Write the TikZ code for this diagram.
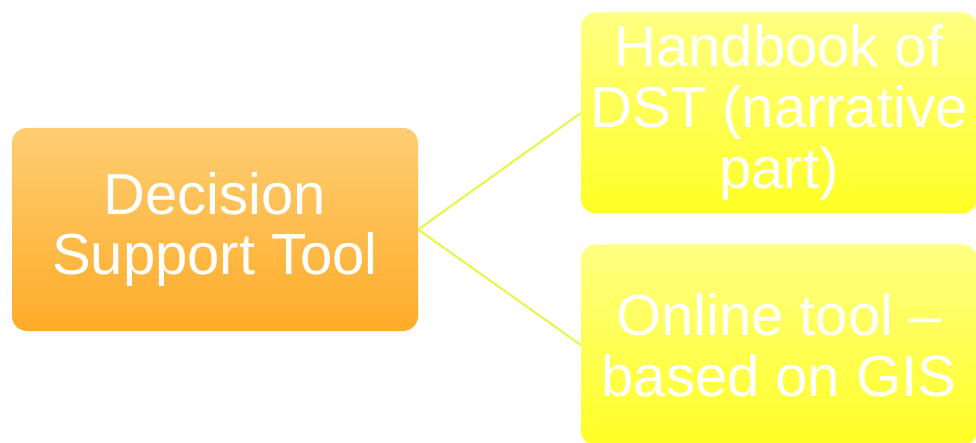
\documentclass[tikz,border=0pt]{standalone}
\usepackage{fontspec}
\setmainfont{Liberation Sans}
\usepackage{tikz}
\usetikzlibrary{shapes.geometric, arrows}
\definecolor{orangetop}{RGB}{254,205,115}
\definecolor{orangebot}{RGB}{254,172,40}
\definecolor{yellowtop}{RGB}{255,255,130}
\definecolor{yellowbot}{RGB}{255,255,38}
\definecolor{linkcol}{RGB}{232,245,70}
\tikzstyle{rootbox} = [rectangle, rounded corners=15pt, inner sep=0pt, align=center, text=white, font=\fontsize{58}{60}\selectfont, top color=orangetop, bottom color=orangebot, minimum width=406pt, minimum height=203pt]
\tikzstyle{leafbox} = [rectangle, rounded corners=15pt, inner sep=0pt, align=center, text=white, font=\fontsize{58}{61}\selectfont, top color=yellowtop, bottom color=yellowbot, minimum width=396pt, minimum height=201pt]
\tikzstyle{link} = [line width=2pt, draw=linkcol]

\begin{document}
\begin{tikzpicture}[x=1pt, y=-1pt]
          \useasboundingbox (0,0) rectangle (976,443);
          % Node positions
          \node[rootbox] (dst) at (215,229.5) {Decision\\Support Tool};
          \node[leafbox] (handbook) at (779,113) {Handbook of\\DST (narrative\\part)};
          \node[leafbox] (online) at (779,345) {Online tool --\\based on GIS};

          % Edges
          \draw[link] (dst.east) -- (handbook.west);
          \draw[link] (dst.east) -- (online.west);

        \end{tikzpicture}
\end{document}
